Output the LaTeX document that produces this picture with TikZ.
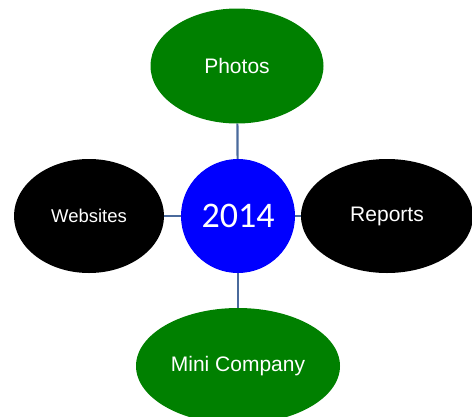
\documentclass[tikz,border=0pt]{standalone}
\usepackage{fontspec}
\setmainfont{Liberation Sans}
\newfontfamily\yearfont{Carlito}
\usepackage{tikz}
\definecolor{leafgreen}{HTML}{008000}
\definecolor{hubblue}{HTML}{0000FF}
\definecolor{linkblue}{HTML}{4A6A9C}
\usetikzlibrary{shapes.geometric}

\begin{document}
\begin{tikzpicture}[x=1pt,y=-1pt]
                    \tikzstyle{every node}=[font=\fontsize{21}{24}\selectfont, text=white]
                    \tikzstyle{hub} = [circle, fill=hubblue, minimum size=114pt, inner sep=0pt]
                    \tikzstyle{leaf} = [ellipse, inner sep=0pt]
                    \tikzstyle{edge} = [draw=linkblue, line width=2.2pt]
                    \useasboundingbox (0,0) rectangle (472,416);

                    \node[hub](year) at (238,216) {\yearfont\fontsize{36}{40}\selectfont 2014};
                    \node[leaf, fill=leafgreen, minimum width=173pt, minimum height=115pt](photos) at (237,66) {Photos};
                    \node[leaf, fill=black, minimum width=150pt, minimum height=114pt](websites) at (89,216) {\fontsize{18.5}{22}\selectfont Websites};
                    \node[leaf, fill=black, minimum width=172pt, minimum height=114pt](reports) at (387,216) {Reports};
                    \node[leaf, fill=leafgreen, minimum width=204pt, minimum height=116pt](company) at (238,366) {Mini Company};

                    \draw[edge] (photos) -- (year);
                    \draw[edge] (websites) -- (year);
                    \draw[edge] (reports) -- (year);
                    \draw[edge] (company) -- (year);
            \end{tikzpicture}
\end{document}
